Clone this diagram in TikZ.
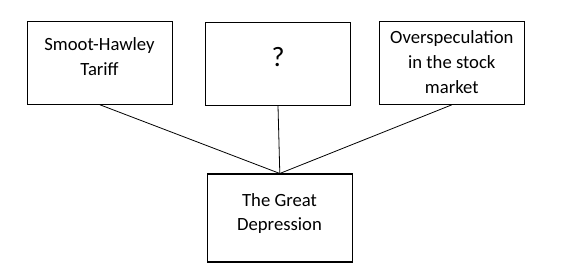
\documentclass[tikz,border=0pt]{standalone}
\usepackage{fontspec}
\setmainfont{Carlito}
\usetikzlibrary{positioning}

\begin{document}
\begin{tikzpicture}[x=0.75pt,y=-0.75pt,
    cause/.style={draw,line width=0.8pt,minimum width=108.75pt,minimum height=62.25pt,inner sep=0pt},
    effect/.style={cause,minimum height=66pt},
    lbl/.style={anchor=base,align=center,inner sep=0pt,font=\fontsize{14}{18.5}\selectfont},
    link/.style={line width=0.6pt}]
    \useasboundingbox (0,0) rectangle (563,272);
    % Causes
    \node[cause] (tariff) at (99.8,62.7) {};
    \node[cause] (unknown) at (278,63.8) {};
    \node[cause] (specul) at (451.8,62.8) {};
    % Effect
    \node[effect] (depr) at (279.8,218) {};
    % Texts
    \node[lbl] (tariff-t) at (99.5,75) {Smoot-Hawley\\Tariff};
    \node[lbl,font=\fontsize{21}{24}\selectfont] (unknown-t) at (278,66.7) {?};
    \node[lbl] (specul-t) at (451.8,93) {Overspeculation\\in the stock\\market};
    \node[lbl] (depr-t) at (279.5,230.7) {The Great\\Depression};
    % Connections
    \draw[link] (tariff.south) -- (depr.north);
    \draw[link] (unknown.south) -- (depr.north);
    \draw[link] (specul.south) -- (depr.north);
\end{tikzpicture}
\end{document}
